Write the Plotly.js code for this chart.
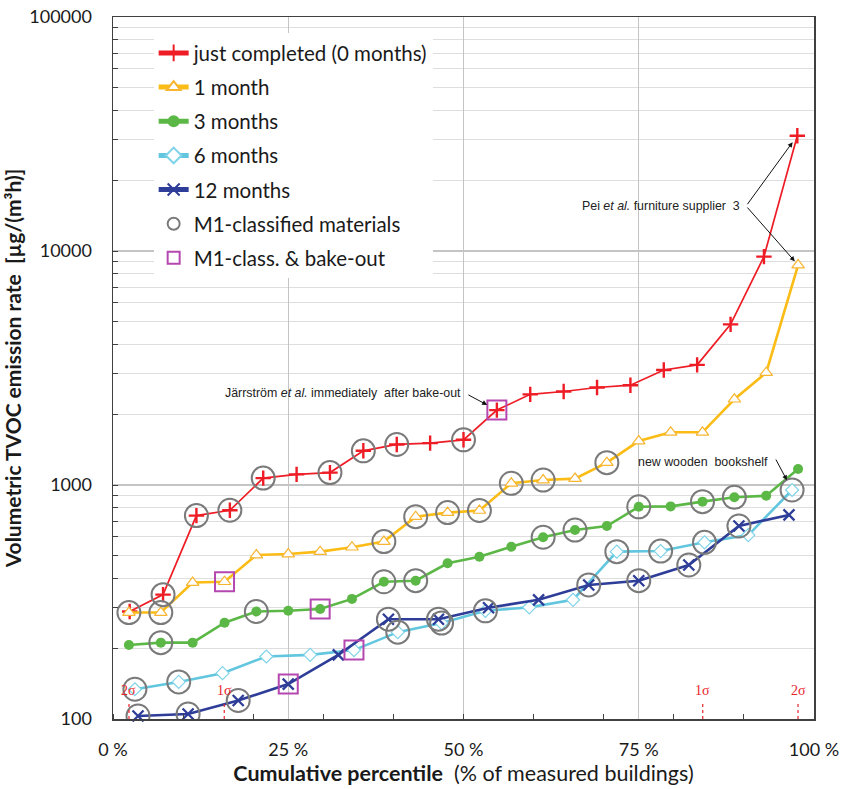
<!DOCTYPE html>
<html>
<head>
<meta charset="utf-8">
<script src="https://cdn.plot.ly/plotly-3.0.1.min.js"></script>
<style>
  html, body { margin: 0; padding: 0; background: #ffffff; }
  #chart { width: 843px; height: 789px; }
</style>
</head>
<body>
<div id="chart"></div>
<script>
// Cumulative percentile (% of measured buildings) for each survey round
const pct0 = [2.38, 7.14, 11.90, 16.67, 21.43, 26.19, 30.95, 35.71, 40.48, 45.24, 50.00,
              54.76, 59.52, 64.29, 69.05, 73.81, 78.57, 83.33, 88.10, 92.86, 97.62];
const pct1 = [2.27, 6.82, 11.36, 15.91, 20.45, 25.00, 29.55, 34.09, 38.64, 43.18, 47.73,
              52.27, 56.82, 61.36, 65.91, 70.45, 75.00, 79.55, 84.09, 88.64, 93.18, 97.73];
const pct3 = pct1;
const pct6 = [3.125, 9.375, 15.625, 21.875, 28.125, 34.375, 40.625, 46.875,
              53.125, 59.375, 65.625, 71.875, 78.125, 84.375, 90.625, 96.875];
const pct12 = [3.57, 10.71, 17.86, 25.00, 32.14, 39.29, 46.43, 53.57, 60.71, 67.86,
               75.00, 82.14, 89.29, 96.43];

// Volumetric TVOC emission rate, µg/(m³h)
const tvoc0 = [288, 340, 740, 780, 1070, 1110, 1130, 1400, 1490, 1510, 1560,
               2090, 2440, 2510, 2610, 2670, 3100, 3260, 4860, 9460, 31100];
const tvoc1 = [285, 285, 383, 386, 502, 507, 519, 542, 573, 732, 762,
               778, 1017, 1050, 1065, 1246, 1541, 1680, 1680, 2325, 3020, 8710];
const tvoc3 = [207, 212, 212, 258, 288, 290, 295, 326, 386, 390, 463,
               494, 545, 598, 642, 668, 807, 810, 849, 886, 899, 1170];
const tvoc6 = [134, 144, 157, 185, 188, 197, 235, 257, 290, 300, 323,
               519, 522, 569, 611, 952];
const tvoc12 = [103, 105, 120, 141, 188, 267, 267, 299, 323, 374, 390, 455, 668, 745];

// Buildings built with M1-classified materials (indices into each round)
const m1Idx0 = [1, 2, 3, 4, 6, 7, 8, 10];
const m1Idx1 = [0, 1, 8, 9, 10, 11, 12, 13, 15];
const m1Idx3 = [1, 4, 8, 9, 13, 14, 16, 18, 19];
const m1Idx6 = [0, 1, 6, 7, 8, 11, 12, 13, 15];
const m1Idx12 = [0, 1, 2, 5, 6, 9, 10, 11, 12];

// M1-classified and baked out
const bakeIdx0 = [11];
const bakeIdx1 = [3];
const bakeIdx3 = [6];
const bakeIdx6 = [5];
const bakeIdx12 = [3];

const seriesNames = ['just completed (0 months)', '1 month', '3 months', '6 months', '12 months'];
const sigmaLabels = ['2σ', '1σ', '1σ', '2σ'];
const sigmaPct = [2.28, 15.87, 84.13, 97.72];
const xTickVals = [0, 25, 50, 75, 100];
const xTickText = ['0 %', '25 %', '50 %', '75 %', '100 %'];

const FONT = 'Lato, Carlito, Calibri, "Open Sans", sans-serif';
const NARROW = '"Liberation Sans Narrow", "Arial Narrow", "Liberation Sans", Arial, sans-serif';

const rounds = [
  {x: pct0, y: tvoc0, m1: m1Idx0, bake: bakeIdx0},
  {x: pct1, y: tvoc1, m1: m1Idx1, bake: bakeIdx1},
  {x: pct3, y: tvoc3, m1: m1Idx3, bake: bakeIdx3},
  {x: pct6, y: tvoc6, m1: m1Idx6, bake: bakeIdx6},
  {x: pct12, y: tvoc12, m1: m1Idx12, bake: bakeIdx12}
];

const styles = [
  {line: {color: '#ee1c25', width: 1.7},
   marker: {symbol: 'cross-thin', size: 11, color: '#ee1c25', line: {color: '#ee1c25', width: 2.4}}},
  {line: {color: '#fbbc16', width: 2.6},
   marker: {symbol: 'triangle-up', size: 11, color: '#ffffff', line: {color: '#f7b531', width: 1.2}}},
  {line: {color: '#5cb846', width: 2.6},
   marker: {symbol: 'circle', size: 10, color: '#5cb846', line: {width: 0}}},
  {line: {color: '#62c6de', width: 2.6},
   marker: {symbol: 'diamond', size: 10, color: '#ffffff', line: {color: '#7fd3e8', width: 1.2}}},
  {line: {color: '#2e3d98', width: 2.6},
   marker: {symbol: 'x-thin', size: 11, color: '#2e3d98', line: {color: '#2e3d98', width: 2.3}}}
];

const traces = rounds.map((r, i) => ({
  type: 'scatter', mode: 'lines+markers', name: seriesNames[i],
  x: r.x, y: r.y, line: styles[i].line, marker: styles[i].marker,
  legendgroup: 'g' + i, cliponaxis: false
}));

const m1x = [], m1y = [], bx = [], by = [];
rounds.forEach(r => {
  r.m1.forEach(k => { m1x.push(r.x[k]); m1y.push(r.y[k]); });
  r.bake.forEach(k => { bx.push(r.x[k]); by.push(r.y[k]); });
});

traces.push({
  type: 'scatter', mode: 'markers', name: 'M1-classified materials',
  x: m1x, y: m1y, legendgroup: 'g5',
  marker: {symbol: 'circle-open', size: 23, color: '#7a7a7a', line: {width: 2}}
});
traces.push({
  type: 'scatter', mode: 'markers', name: 'M1-class. & bake-out',
  x: bx, y: by, legendgroup: 'g6',
  marker: {symbol: 'square-open', size: 19, color: '#b548b0', line: {width: 2}}
});

const log = v => Math.log10(v);
const arrowBase = {
  xref: 'x', yref: 'y', text: '', showarrow: true,
  arrowhead: 2, arrowsize: 1, arrowwidth: 1, arrowcolor: '#111111'
};
const noteFont = {family: NARROW, size: 12.4, color: '#222222'};

const annotations = [
  {xref: 'paper', yref: 'paper', x: 0.499, y: 0.464, xanchor: 'right', yanchor: 'middle',
   text: 'Järrström <i>et al.</i> immediately\u00a0 after bake-out', showarrow: false, font: noteFont},
  Object.assign({}, arrowBase, {x: pct0[11], y: log(tvoc0[11]), ax: -30, ay: -16, standoff: 11}),

  {xref: 'paper', yref: 'paper', x: 0.897, y: 0.731, xanchor: 'right', yanchor: 'middle',
   text: 'Pei <i>et al.</i> furniture supplier\u00a0 3', showarrow: false, font: noteFont},
  Object.assign({}, arrowBase, {x: pct0[20], y: log(tvoc0[20]), ax: -51, ay: 70, standoff: 8}),
  Object.assign({}, arrowBase, {x: pct1[21], y: log(tvoc1[21]), ax: -52, ay: -59, standoff: 5}),

  {xref: 'paper', yref: 'paper', x: 0.937, y: 0.366, xanchor: 'right', yanchor: 'middle',
   text: 'new wooden\u00a0 bookshelf', showarrow: false, font: noteFont},
  Object.assign({}, arrowBase, {x: pct6[15], y: log(tvoc6[15]), ax: -17, ay: -32, standoff: 11})
];

const shapes = [];
sigmaPct.forEach((p, i) => {
  annotations.push({
    xref: 'x', yref: 'paper', x: p, y: 0.041, text: sigmaLabels[i], showarrow: false,
    xanchor: 'center', yanchor: 'middle',
    font: {family: '"Liberation Serif", "Times New Roman", serif', size: 14, color: '#e8232a'}
  });
  shapes.push({
    type: 'line', xref: 'x', yref: 'paper', x0: p, x1: p, y0: 0, y1: 0.024,
    line: {color: '#e8232a', width: 1.2, dash: '3px,3px'}
  });
});

const layout = {
  width: 843, height: 789,
  margin: {l: 113, r: 29, t: 17, b: 70},
  paper_bgcolor: '#ffffff', plot_bgcolor: '#ffffff',
  font: {family: FONT, size: 17, color: '#1a1a1a'},
  showlegend: true,
  legend: {
    x: 0.058, y: 0.977, xanchor: 'left', yanchor: 'top',
    bgcolor: '#ffffff', borderwidth: 0,
    font: {family: FONT, size: 20.5, color: '#1a1a1a'},
    itemwidth: 30, itemsizing: 'constant', tracegroupgap: 4.5,
    traceorder: 'grouped'
  },
  xaxis: {
    range: [0, 100], tickmode: 'array', tickvals: xTickVals, ticktext: xTickText,
    ticks: '', showgrid: true, gridcolor: '#c4c4c4', gridwidth: 1.2,
    zeroline: false, showline: true, linecolor: '#404040', linewidth: 1.5, mirror: true,
    ticklabelstandoff: 14,
    tickfont: {family: FONT, size: 18, color: '#1a1a1a'},
    minor: {tickmode: 'linear', tick0: 0, dtick: 10, ticks: 'inside', ticklen: 5,
            tickcolor: '#404040', showgrid: false},
    title: {text: '<b>Cumulative percentile</b>\u00a0 (% of measured buildings)',
            font: {family: FONT, size: 21.5, color: '#1a1a1a'}, standoff: 6}
  },
  yaxis: {
    type: 'log', range: [2, 5], dtick: 1, tickformat: 'd',
    ticks: 'inside', ticklen: 5, tickcolor: '#404040',
    showgrid: true, gridcolor: '#c4c4c4', gridwidth: 1.2,
    zeroline: false, showline: true, linecolor: '#404040', linewidth: 1.5, mirror: true,
    ticklabelstandoff: 16,
    tickfont: {family: FONT, size: 18, color: '#1a1a1a'},
    minor: {dtick: 'D1', ticks: 'inside', ticklen: 5, tickcolor: '#404040',
            showgrid: true, gridcolor: '#dedede', gridwidth: 1},
    title: {text: '<b>Volumetric TVOC emission rate\u00a0 [µg/(m³h)]</b>',
            font: {family: FONT, size: 21, color: '#1a1a1a'}, standoff: 8}
  },
  annotations: annotations,
  shapes: shapes
};

Plotly.newPlot('chart', traces, layout, {displayModeBar: false, staticPlot: true});
</script>
</body>
</html>
